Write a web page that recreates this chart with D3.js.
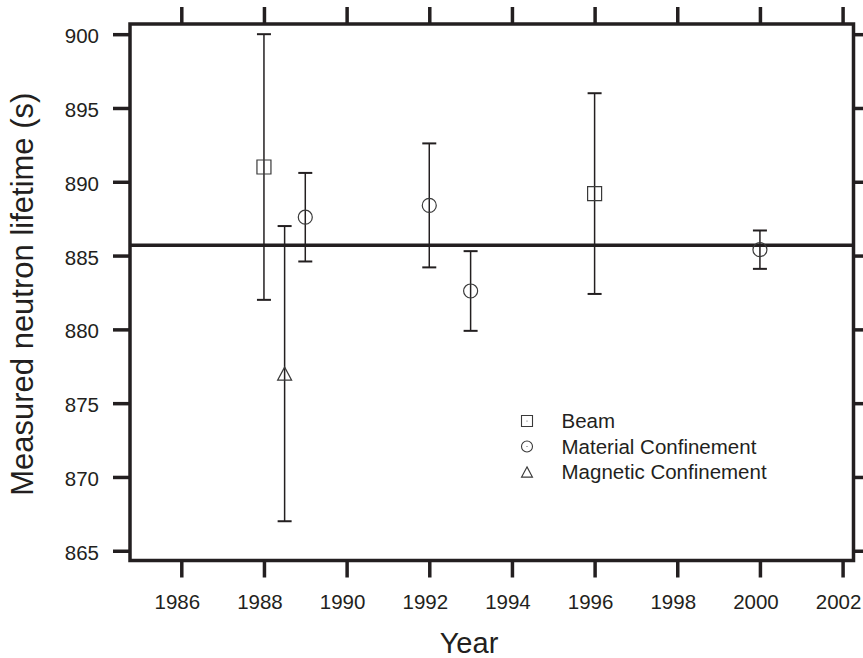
<!DOCTYPE html>
<html>
<head>
<meta charset="utf-8">
<script src="https://cdn.jsdelivr.net/npm/d3@7/dist/d3.min.js"></script>
<style>
  html, body { margin: 0; padding: 0; background: #fff; }
  svg { display: block; }
  text { font-family: "Liberation Sans", Arial, Helvetica, sans-serif; fill: #231f20; }
</style>
</head>
<body>
<svg id="chart" width="863" height="658"></svg>
<script>
// ---- data ----
const years   = [1988, 1988.5, 1989, 1992, 1993, 1996, 2000];
const methods = ["Beam", "Magnetic Confinement", "Material Confinement", "Material Confinement", "Material Confinement", "Beam", "Material Confinement"];
const lifetimes = [891.0, 877.0, 887.6, 888.4, 882.6, 889.2, 885.4];
const errors    = [9.0, 10.0, 3.0, 4.2, 2.7, 6.8, 1.3];
const worldAverage = 885.7;
const xTicks = [1986, 1988, 1990, 1992, 1994, 1996, 1998, 2000, 2002];
const yTicks = [865, 870, 875, 880, 885, 890, 895, 900];
const legendLabels = ["Beam", "Material Confinement", "Magnetic Confinement"];

// ---- layout ----
const svg = d3.select("#chart");
const ink = "#231f20";
const pL = 130, pR = 853.5, pT = 24, pB = 560.5;

const x = d3.scaleLinear().domain([1984.759, 2002.264]).range([pL, pR]);
const y = d3.scaleLinear().domain([864.34, 900.69]).range([pB, pT]);

const tickLen = 17, tickW = 3.5;

const axB = svg.append("g").attr("transform", `translate(0,${pB})`)
  .call(d3.axisBottom(x).tickValues(xTicks).tickFormat(d3.format("d")).tickSizeInner(tickLen).tickSizeOuter(0).tickPadding(16.5));
const axT = svg.append("g").attr("transform", `translate(0,${pT})`)
  .call(d3.axisTop(x).tickValues(xTicks).tickFormat("").tickSizeInner(tickLen).tickSizeOuter(0));
const axL = svg.append("g").attr("transform", `translate(${pL},0)`)
  .call(d3.axisLeft(y).tickValues(yTicks).tickFormat(d3.format("d")).tickSizeInner(tickLen).tickSizeOuter(0).tickPadding(14));
const axR = svg.append("g").attr("transform", `translate(${pR},0)`)
  .call(d3.axisRight(y).tickValues(yTicks).tickFormat("").tickSizeInner(10).tickSizeOuter(0));

[axB, axT, axL, axR].forEach(a => {
  a.select(".domain").remove();
  a.selectAll(".tick line").attr("stroke", ink).attr("stroke-width", tickW);
  a.selectAll("text").attr("font-size", 20.5).attr("fill", ink)
    .attr("font-family", '"Liberation Sans", Arial, sans-serif');
});
axB.selectAll(".tick text").attr("dx", -4.5);
axL.selectAll(".tick text").attr("dy", "0.42em");

svg.append("rect").attr("x", pL).attr("y", pT)
  .attr("width", pR - pL).attr("height", pB - pT)
  .attr("fill", "none").attr("stroke", ink).attr("stroke-width", 3.5);

svg.append("line")
  .attr("x1", pL).attr("x2", pR)
  .attr("y1", y(worldAverage)).attr("y2", y(worldAverage))
  .attr("stroke", ink).attr("stroke-width", 3.5);

const data = years.map((yr, i) => ({ year: yr, method: methods[i], value: lifetimes[i], err: errors[i] }));

const capW = 14, barW = 1.5, markW = 1.2;
const gBars = svg.append("g");
gBars.selectAll("line.v").data(data).join("line").attr("class", "v")
  .attr("x1", d => x(d.year)).attr("x2", d => x(d.year))
  .attr("y1", d => y(d.value - d.err)).attr("y2", d => y(d.value + d.err))
  .attr("stroke", ink).attr("stroke-width", barW);
gBars.selectAll("line.capT").data(data).join("line").attr("class", "capT")
  .attr("x1", d => x(d.year) - capW / 2).attr("x2", d => x(d.year) + capW / 2)
  .attr("y1", d => y(d.value + d.err)).attr("y2", d => y(d.value + d.err))
  .attr("stroke", ink).attr("stroke-width", 2);
gBars.selectAll("line.capB").data(data).join("line").attr("class", "capB")
  .attr("x1", d => x(d.year) - capW / 2).attr("x2", d => x(d.year) + capW / 2)
  .attr("y1", d => y(d.value - d.err)).attr("y2", d => y(d.value - d.err))
  .attr("stroke", ink).attr("stroke-width", 2);

function markerPath(method, s) {
  const h = s / 2;
  if (method === "Beam") return `M${-h},${-h}H${h}V${h}H${-h}Z`;
  if (method === "Material Confinement") return `M${h},0A${h},${h} 0 1,1 ${-h},0A${h},${h} 0 1,1 ${h},0Z`;
  const th = s * 0.93;
  return `M0,${-th / 2}L${h},${th / 2}L${-h},${th / 2}Z`;
}

svg.append("g").selectAll("path").data(data).join("path")
  .attr("transform", d => `translate(${x(d.year)},${y(d.value)})`)
  .attr("d", d => markerPath(d.method, 14))
  .attr("fill", "none").attr("stroke", "#3a3a3a").attr("stroke-width", markW);

const legX = 527, legY0 = 421, legDy = 25.5;
const leg = svg.append("g");
legendLabels.forEach((lab, i) => {
  const cy = legY0 + i * legDy;
  leg.append("path").attr("transform", `translate(${legX},${cy})`)
    .attr("d", markerPath(lab, 11))
    .attr("fill", "none").attr("stroke", "#3a3a3a").attr("stroke-width", 1.1);
  if (lab !== "Magnetic Confinement") {
    leg.append("circle").attr("cx", legX).attr("cy", cy).attr("r", 0.6).attr("fill", "#555");
  }
  leg.append("text").attr("x", 561.5).attr("y", cy + 7.3)
    .attr("font-size", 20.5).text(lab);
});

svg.append("text").attr("x", 469).attr("y", 653)
  .attr("text-anchor", "middle").attr("font-size", 29).text("Year");
svg.append("text").attr("transform", `translate(33,${(pT + pB) / 2 + 2}) rotate(-90)`)
  .attr("text-anchor", "middle").attr("font-size", 31).text("Measured neutron lifetime (s)");
</script>
</body>
</html>
